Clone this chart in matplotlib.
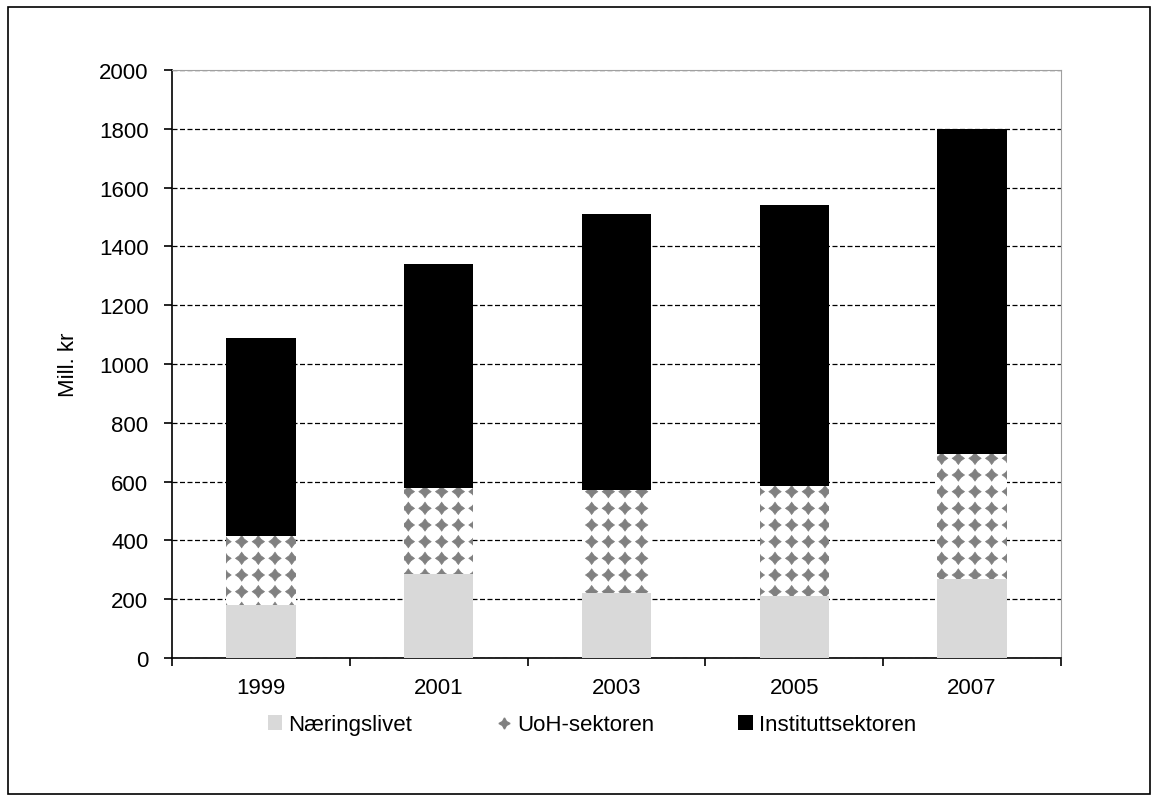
import numpy as np
import matplotlib.pyplot as plt
import matplotlib.hatch as mhatch
from matplotlib.lines import Line2D
from matplotlib.patches import Patch, Rectangle
from matplotlib.path import Path

years = ['1999', '2001', '2003', '2005', '2007']
naeringslivet = [180, 285, 220, 210, 270]
uoh_sektoren = [235, 293, 352, 375, 425]
instituttsektoren = [675, 762, 938, 955, 1105]


class DiamondCrosses(mhatch.HatchPatternBase):
    # filled 4-point stars on a square grid, used for the '*' hatch
    def __init__(self, hatch, density):
        self.num_rows = hatch.count('*') * density
        ang = np.arange(8) * np.pi / 4 + np.pi / 2
        rad = np.where(np.arange(8) % 2 == 0, 0.37, 0.22)
        pts = np.column_stack([rad * np.cos(ang), rad * np.sin(ang)])
        self.shape = np.vstack([pts, pts[:1]])
        self.shape_codes = np.array([Path.MOVETO] + [Path.LINETO] * 7 + [Path.CLOSEPOLY])
        self.num_vertices = self.num_rows ** 2 * len(self.shape)

    def set_vertices_and_codes(self, vertices, codes):
        step = 1.0 / self.num_rows
        shape = self.shape * step
        parts = []
        for r in range(self.num_rows):
            for c in range(self.num_rows):
                parts.append(shape + [(c + 0.5) * step, (r + 0.5) * step])
        vertices[:] = np.concatenate(parts)
        codes[:] = np.tile(self.shape_codes, self.num_rows ** 2)


mhatch._hatch_types = [t for t in mhatch._hatch_types if t is not mhatch.Stars]
mhatch._hatch_types.append(DiamondCrosses)

plt.rcParams['font.family'] = ['Liberation Sans', 'DejaVu Sans']
plt.rcParams['hatch.color'] = '#808080'
plt.rcParams['hatch.linewidth'] = 0.5

fig = plt.figure(figsize=(11.59, 8.03), dpi=100)
fig.patches.append(Rectangle((8 / 1159, 8 / 803), 1142 / 1159, 787 / 803,
                             transform=fig.transFigure, fill=False,
                             edgecolor='black', linewidth=1.2))
ax = fig.add_axes([172 / 1159, 1 - 659 / 803, 889 / 1159, 588 / 803])

x = list(range(len(years)))
width = 0.39
bottom2 = [a + b for a, b in zip(naeringslivet, uoh_sektoren)]

ax.bar(x, naeringslivet, width, color='#d9d9d9', zorder=3)
ax.bar(x, uoh_sektoren, width, bottom=naeringslivet, color='white',
       hatch='*', edgecolor='#808080', linewidth=0, zorder=3)
ax.bar(x, instituttsektoren, width, bottom=bottom2, color='black', zorder=3)

ax.set_xlim(-0.5, len(years) - 0.5)
ax.set_ylim(0, 2000)
ax.set_yticks(range(0, 2001, 200))
ax.yaxis.grid(True, linestyle=(0, (4, 2)), color='black', linewidth=0.9, zorder=0)
ax.set_xticks(x)
ax.set_xticklabels(years)
ax.tick_params(axis='x', length=0, pad=14, labelsize=16)
ax.set_xticks([i - 0.5 for i in range(len(years) + 1)], minor=True)
ax.tick_params(axis='x', which='minor', length=6, width=1.2, direction='out')
ax.tick_params(axis='y', length=6, width=1.2, direction='out', labelsize=16, pad=11)

ax.spines['left'].set_linewidth(1.2)
ax.spines['bottom'].set_linewidth(1.2)
ax.spines['right'].set_color('#a0a0a0')
ax.spines['top'].set_color('#a0a0a0')
ax.set_ylabel('Mill. kr', fontsize=16, labelpad=14)

handles = [
    Patch(facecolor='#d9d9d9'),
    Line2D([], [], marker=(4, 1, 0), color='#808080', linestyle='none', markersize=8),
    Patch(facecolor='black'),
]
labels = ['Næringslivet', 'UoH-sektoren', 'Instituttsektoren']
ax.legend(handles, labels, loc='center', bbox_to_anchor=(592 / 1159, 1 - 726 / 803),
          bbox_transform=fig.transFigure, ncol=3, frameon=False, fontsize=16,
          handlelength=0.64, handleheight=0.64, handletextpad=0.27,
          columnspacing=3.8)

fig.savefig('out.png', dpi=100)
